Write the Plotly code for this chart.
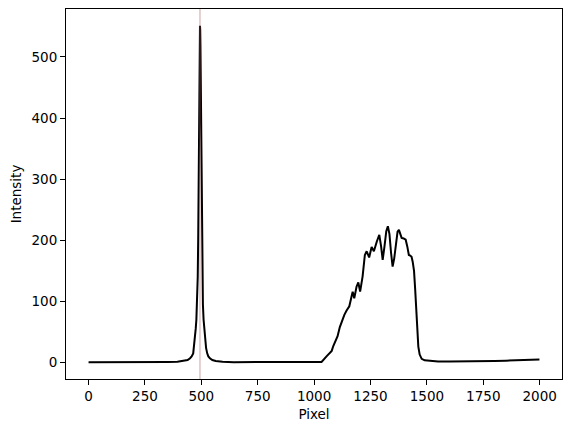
import plotly.graph_objects as go

# Pixel positions and intensities
pixel = [0, 50, 100, 150, 200, 250, 300, 350, 394, 424, 439, 450, 457, 464, 467, 471, 475, 478,
         481, 484, 486, 487, 488, 489, 490, 491, 492, 493, 494, 495, 496, 497, 498, 499, 500,
         501, 502, 504, 507, 510, 513, 517, 521, 526, 531, 538, 549, 564, 594, 644,
         700, 750, 800, 850, 900, 950, 1000, 1033, 1055, 1078, 1085, 1095, 1104, 1114, 1125,
         1134, 1144, 1156, 1166, 1171, 1178, 1188, 1196, 1204, 1215, 1225, 1233, 1244, 1255,
         1265, 1278, 1289, 1297, 1304, 1312, 1320, 1327, 1334, 1341, 1348, 1355, 1363, 1370,
         1376, 1382, 1388, 1397, 1406, 1413, 1420, 1426, 1432, 1437, 1443, 1448, 1452, 1457,
         1462, 1468, 1477, 1490, 1513, 1550, 1600, 1650, 1700, 1750, 1800, 1850, 1880, 1900,
         1930, 1960, 1999]
intensity = [0.3, 0.2, 0.4, 0.3, 0.4, 0.5, 0.6, 0.8, 1.2, 2.5, 4, 7, 10, 15, 24, 40, 55, 70,
             95, 140, 200, 240, 290, 350, 410, 470, 520, 545, 551, 545, 520, 470, 410, 350, 290,
             240, 200, 140, 95, 70, 55, 40, 24, 15, 10, 7, 4, 2.5, 1.2, 0.6,
             0.5, 0.4, 0.3, 0.4, 0.3, 0.4, 0.5, 1, 10, 19, 27, 37, 43, 58, 70,
             78, 85, 92, 108, 116, 105, 124, 131, 116, 141, 176, 182, 172, 189,
             182, 198, 209, 190, 168, 190, 215, 223, 210, 180, 157, 170, 200, 214,
             217, 210, 204, 203, 201, 190, 176, 175, 173, 165, 150, 120, 92, 55,
             26, 13, 6, 3.5, 2.5, 1.8, 1.5, 1.5, 1.8, 2, 2.5, 3, 3.5, 3.2,
             4.5, 5, 5]

marker_pixel = 494
x_ticks = [0, 250, 500, 750, 1000, 1250, 1500, 1750, 2000]
y_ticks = [0, 100, 200, 300, 400, 500]

font = dict(family="DejaVu Sans", size=13.5, color="black")

fig = go.Figure()
fig.add_trace(go.Scatter(x=pixel, y=intensity, mode="lines",
                         line=dict(color="black", width=2), showlegend=False))
fig.add_shape(type="line", x0=marker_pixel, x1=marker_pixel, xref="x",
              y0=0, y1=1, yref="paper",
              line=dict(color="rgba(170,90,90,0.7)", width=0.8))

axis_common = dict(showline=True, linecolor="black", linewidth=1, mirror=True,
                   ticks="outside", ticklen=5, tickwidth=1, tickcolor="black",
                   showgrid=False, zeroline=False, tickfont=font)
fig.update_xaxes(range=[-100, 2099], tickvals=x_ticks,
                 ticktext=[str(v) for v in x_ticks],
                 title=dict(text="Pixel", font=font, standoff=6), **axis_common)
fig.update_yaxes(range=[-27, 578.5], tickvals=y_ticks,
                 ticktext=[str(v) for v in y_ticks],
                 title=dict(text="Intensity", font=font, standoff=6), **axis_common)
fig.update_layout(width=571, height=432, plot_bgcolor="white", paper_bgcolor="white",
                  margin=dict(l=66, r=9, t=9, b=53), font=font)
fig.write_html("out.html")
